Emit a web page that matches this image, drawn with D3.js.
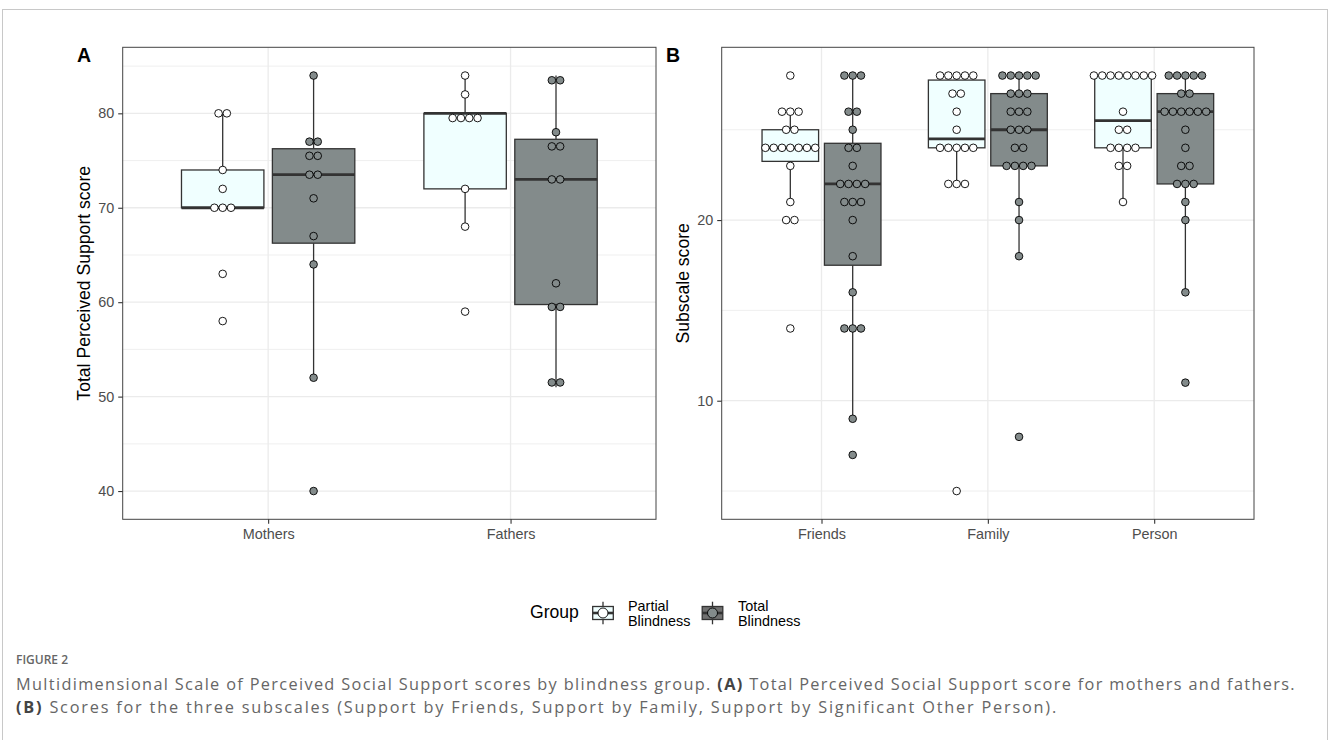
<!DOCTYPE html>
<html><head><meta charset="utf-8">
<script src="https://cdn.jsdelivr.net/npm/d3@7"></script>
<style>body{margin:0;background:#fff} svg{display:block}</style>
</head><body>
<svg id="chart" width="1330" height="740"></svg>
<script>
// ---------------- data ----------------
const groups = ["Partial Blindness", "Total Blindness"];
const groupLabelLines = [["Partial", "Blindness"], ["Total", "Blindness"]];

const parentCategories = ["Mothers", "Fathers"];
const mothersPartial = [58, 63, 70, 70, 70, 72, 74, 80, 80];
const mothersTotal   = [40, 52, 64, 67, 71, 73, 74, 75, 76, 77, 77, 84];
const fathersPartial = [59, 68, 72, 79, 80, 80, 80, 82, 84];
const fathersTotal   = [51, 52, 59, 60, 62, 73, 73, 76, 77, 78, 83, 84];

const subscaleCategories = ["Friends", "Family", "Person"];
const friendsPartial = [14, 20, 20, 21, 23, 24, 24, 24, 24, 24, 24, 24, 25, 25, 26, 26, 26, 28];
const friendsTotal   = [7, 9, 14, 14, 14, 16, 18, 20, 21, 21, 21, 22, 22, 22, 22, 23, 24, 24, 25, 26, 26, 28, 28, 28];
const familyPartial  = [5, 22, 22, 22, 24, 24, 24, 24, 24, 25, 26, 27, 27, 28, 28, 28, 28, 28];
const familyTotal    = [8, 18, 20, 21, 23, 23, 23, 23, 24, 24, 25, 25, 25, 26, 26, 26, 27, 27, 27, 28, 28, 28, 28, 28];
const personPartial  = [21, 23, 23, 24, 24, 24, 24, 25, 25, 26, 28, 28, 28, 28, 28, 28, 28, 28];
const personTotal    = [11, 16, 20, 21, 22, 22, 22, 23, 23, 24, 25, 26, 26, 26, 26, 26, 26, 27, 27, 28, 28, 28, 28, 28];

const ticksA = [40, 50, 60, 70, 80];
const minorTicksA = [45, 55, 65, 75, 85];
const ticksB = [10, 20];
const minorTicksB = [5, 15, 25];

const titleA = "Total Perceived Support score";
const titleB = "Subscale score";
const legendTitle = "Group";
const figureLabel = "FIGURE 2";
const captionLine1 = [["Multidimensional Scale of Perceived Social Support scores by blindness group. ", false], ["(A)", true], [" Total Perceived Social Support score for mothers and fathers.", false]];
const captionLine2 = [["(B)", true], [" Scores for the three subscales (Support by Friends, Support by Family, Support by Significant Other Person).", false]];

// ---------------- styles ----------------
const boxFill = ["#F0FFFF", "#838B8B"];
const dotFill = ["#FFFFFF", "#838B8B"];
const keyFill = ["#F0FFFF", "#707070"];
const FONT = "'Liberation Sans', Arial, Helvetica, sans-serif";

const svg = d3.select("#chart");

// outer figure frame
svg.append("rect").attr("x", 2.5).attr("y", 9.5).attr("width", 1325).attr("height", 760)
  .attr("fill", "none").attr("stroke", "#c8c8c8").attr("stroke-width", 1);

// ggplot-like dotdensity binning
function densityBin(values, bw) {
  const s = values.slice().sort((a, b) => a - b);
  const bins = [];
  let end = -Infinity, cur = null;
  for (const v of s) {
    if (v >= end) { cur = []; bins.push(cur); end = v + bw; }
    cur.push(v);
  }
  return bins.map(b => ({ center: (b[0] + b[b.length - 1]) / 2, count: b.length }));
}

function boxStats(values) {
  const s = values.slice().sort((a, b) => a - b);
  const q1 = d3.quantile(s, 0.25), med = d3.quantile(s, 0.5), q3 = d3.quantile(s, 0.75);
  const iqr = q3 - q1;
  const lo = d3.min(s.filter(v => v >= q1 - 1.5 * iqr));
  const hi = d3.max(s.filter(v => v <= q3 + 1.5 * iqr));
  return { q1, med, q3, lo, hi };
}

function drawPanel(cfg) {
  const { left, right, top, bottom, categories, series, ticks, minor, title, titleX, tag, tagX } = cfg;
  const g = svg.append("g");
  const all = series.flat(2);
  const mn = d3.min(all), mx = d3.max(all), rng = mx - mn;
  const y = d3.scaleLinear().domain([mn - 0.068 * rng, mx + 0.068 * rng]).range([bottom, top]);
  const x = d3.scalePoint().domain(categories).range([left, right]).padding(0.6);
  const step = x.step();
  const bw = rng / 30;
  const pxPerUnit = Math.abs(y(1) - y(0));
  const dotD = 0.6 * bw * pxPerUnit;

  // background + grid
  g.append("rect").attr("x", left).attr("y", top).attr("width", right - left).attr("height", bottom - top).attr("fill", "#fff");
  g.selectAll(".minor").data(minor.filter(v => y(v) >= top && y(v) <= bottom)).join("line")
    .attr("x1", left).attr("x2", right).attr("y1", d => y(d)).attr("y2", d => y(d))
    .attr("stroke", "#ededed").attr("stroke-width", 0.9);
  g.selectAll(".major").data(ticks).join("line")
    .attr("x1", left).attr("x2", right).attr("y1", d => y(d)).attr("y2", d => y(d))
    .attr("stroke", "#ebebeb").attr("stroke-width", 1.3);
  g.selectAll(".vmajor").data(categories).join("line")
    .attr("y1", top).attr("y2", bottom).attr("x1", d => x(d)).attr("x2", d => x(d))
    .attr("stroke", "#ebebeb").attr("stroke-width", 1.3);

  // boxes
  const boxW = 0.34 * step;
  const off = 0.1875 * step;
  categories.forEach((cat, ci) => {
    series[ci].forEach((vals, gi) => {
      const cx = x(cat) + (gi === 0 ? -off : off);
      const st = boxStats(vals);
      const bg = g.append("g");
      bg.append("line").attr("x1", cx).attr("x2", cx).attr("y1", y(st.q3)).attr("y2", y(st.hi))
        .attr("stroke", "#333").attr("stroke-width", 1.3);
      bg.append("line").attr("x1", cx).attr("x2", cx).attr("y1", y(st.q1)).attr("y2", y(st.lo))
        .attr("stroke", "#333").attr("stroke-width", 1.3);
      bg.append("rect").attr("x", cx - boxW / 2).attr("width", boxW)
        .attr("y", y(st.q3)).attr("height", y(st.q1) - y(st.q3))
        .attr("fill", boxFill[gi]).attr("stroke", "#333").attr("stroke-width", 1.3);
      bg.append("line").attr("x1", cx - boxW / 2).attr("x2", cx + boxW / 2)
        .attr("y1", y(st.med)).attr("y2", y(st.med)).attr("stroke", "#333").attr("stroke-width", 2.8);
    });
  });
  // dots
  categories.forEach((cat, ci) => {
    series[ci].forEach((vals, gi) => {
      const cx = x(cat) + (gi === 0 ? -off : off);
      const bins = densityBin(vals, bw);
      const pts = [];
      bins.forEach(b => { for (let j = 0; j < b.count; j++) pts.push({ x: cx + (j - (b.count - 1) / 2) * dotD, y: y(b.center) }); });
      g.selectAll(null).data(pts).join("circle")
        .attr("cx", d => d.x).attr("cy", d => d.y).attr("r", dotD / 2 - 0.35)
        .attr("fill", dotFill[gi]).attr("stroke", "#000").attr("stroke-width", 0.9);
    });
  });

  // border
  g.append("rect").attr("x", left).attr("y", top).attr("width", right - left).attr("height", bottom - top)
    .attr("fill", "none").attr("stroke", "#444").attr("stroke-width", 1);

  // y axis
  const ya = g.append("g").attr("transform", `translate(${left},0)`)
    .call(d3.axisLeft(y).tickValues(ticks).tickSize(4.5).tickPadding(4).tickFormat(d3.format("d")));
  ya.select(".domain").remove();
  ya.selectAll(".tick line").attr("stroke", "#333").attr("stroke-width", 1.1);
  ya.selectAll(".tick text").attr("fill", "#4d4d4d").style("font-family", FONT).style("font-size", "14.4px");
  // x axis
  const xa = g.append("g").attr("transform", `translate(0,${bottom})`)
    .call(d3.axisBottom(x).tickSize(4.5).tickPadding(5));
  xa.select(".domain").remove();
  xa.selectAll(".tick line").attr("stroke", "#333").attr("stroke-width", 1.1);
  xa.selectAll(".tick text").attr("fill", "#4d4d4d").style("font-family", FONT).style("font-size", "14.4px");

  // title
  g.append("text").attr("transform", `translate(${titleX},${(top + bottom) / 2}) rotate(-90)`)
    .attr("text-anchor", "middle").style("font-family", FONT).style("font-size", "17.6px").attr("fill", "#000").text(title);
  // tag
  g.append("text").attr("x", tagX).attr("y", 62).style("font-family", FONT).style("font-size", "19.5px")
    .style("font-weight", "bold").attr("fill", "#000").text(tag);
}

drawPanel({ left: 122.7, right: 656, top: 47.3, bottom: 519.3, categories: parentCategories,
  series: [[mothersPartial, mothersTotal], [fathersPartial, fathersTotal]],
  ticks: ticksA, minor: minorTicksA, title: titleA, titleX: 89.5, tag: "A", tagX: 77 });
drawPanel({ left: 721.7, right: 1254, top: 47.3, bottom: 519.3, categories: subscaleCategories,
  series: [[friendsPartial, friendsTotal], [familyPartial, familyTotal], [personPartial, personTotal]],
  ticks: ticksB, minor: minorTicksB, title: titleB, titleX: 688.5, tag: "B", tagX: 666 });

// ---------------- legend ----------------
const lg = svg.append("g");
lg.append("text").attr("x", 530).attr("y", 618).style("font-family", FONT).style("font-size", "17.6px").attr("fill", "#000").text(legendTitle);
const keyX = [603, 712.5], labX = [628, 738];
groups.forEach((gname, i) => {
  const kx = keyX[i], ky = 613;
  const k = lg.append("g");
  k.append("line").attr("x1", kx).attr("x2", kx).attr("y1", ky - 11.3).attr("y2", ky + 11.3).attr("stroke", "#333").attr("stroke-width", 1.3);
  k.append("rect").attr("x", kx - 10.3).attr("y", ky - 6.5).attr("width", 20.6).attr("height", 13)
    .attr("fill", keyFill[i]).attr("stroke", "#333").attr("stroke-width", 1.3);
  k.append("line").attr("x1", kx - 10.3).attr("x2", kx + 10.3).attr("y1", ky).attr("y2", ky).attr("stroke", "#333").attr("stroke-width", 2.6);
  k.append("circle").attr("cx", kx).attr("cy", ky).attr("r", 5).attr("fill", dotFill[i]).attr("stroke", "#000").attr("stroke-width", 0.9);
  groupLabelLines[i].forEach((ln, j) => {
    lg.append("text").attr("x", labX[i]).attr("y", 610.5 + j * 15).style("font-family", FONT).style("font-size", "14.4px").attr("fill", "#000").text(ln);
  });
});

// ---------------- caption ----------------
const CAPFONT = "'Open Sans', 'Noto Sans', sans-serif";
svg.append("text").attr("x", 16).attr("y", 664).style("font-family", CAPFONT).style("font-size", "12px")
  .style("font-weight", "600").attr("fill", "#666").text(figureLabel);
function capLine(parts, yy, target) {
  const t = svg.append("text").attr("x", 16).attr("y", yy).style("font-family", CAPFONT).style("font-size", "16.3px").attr("fill", "#666");
  parts.forEach(([s, b]) => t.append("tspan").style("font-weight", b ? "700" : "400").attr("fill", b ? "#444" : "#666").text(s));
  const n = parts.map(p => p[0]).join("").length;
  const w = t.node().getComputedTextLength();
  t.style("letter-spacing", Math.max(0, (target - w) / n) + "px");
  return t;
}
capLine(captionLine1, 690, 1280);
capLine(captionLine2, 713, 1042);
</script>
</body></html>
